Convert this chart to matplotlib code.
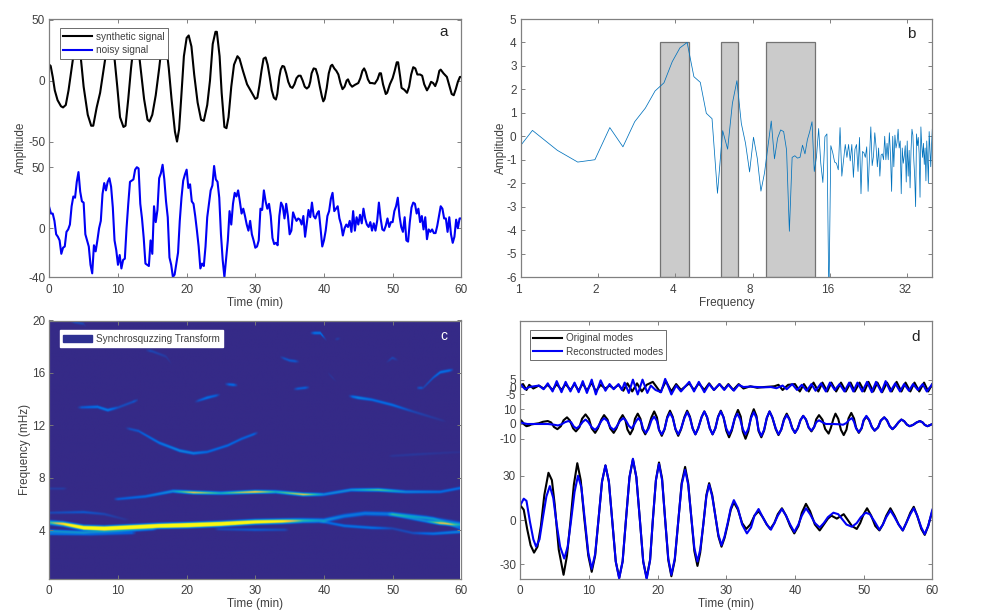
import numpy as np
import matplotlib
matplotlib.use("Agg")
import matplotlib.pyplot as plt
from matplotlib.colors import LinearSegmentedColormap
from matplotlib.lines import Line2D
from matplotlib.patches import Patch, Rectangle
from matplotlib.transforms import ScaledTranslation

plt.rcParams['font.family'] = ['Liberation Sans', 'DejaVu Sans']
plt.rcParams['axes.unicode_minus'] = False

# ---------- panel a ----------
a_clean = np.array([0,13,.2,12,.5,3,.8,-8,1.2,-16,1.7,-21,2,-22,2.4,-20,2.8,-8,3.2,8,3.5,20,4.1,32,4.6,18,5,-5,5.6,-28,6.1,-37,6.4,-37,6.9,-22,7.4,-10,7.8,5,8.2,20,8.6,35,9.2,30,9.5,18,9.9,-5,10.3,-30,10.8,-38,11.1,-37,11.5,-15,11.9,10,12.3,30,12.6,38,13,25,13.4,5,13.8,-15,14.3,-32,14.6,-33.5,15,-28,15.5,-12,16,10,16.3,25,16.7,38,17,30,17.4,10,17.8,-15,18.3,-42,18.6,-50,18.9,-40,19.2,-15,19.6,20,20,35,20.3,37,20.7,28,21.1,5,21.6,-18,22.1,-32,22.5,-33,23,-20,23.4,0,23.8,30,24.2,40,24.4,40,24.8,20,25.1,-10,25.5,-38,25.8,-39,26.1,-30,26.5,-5,26.9,13,27.4,20,27.7,18,28.2,8,28.8,-3,29.2,-7,29.6,-11,
 30,-15,30.3,-14,30.6,-4,30.9,8,31.2,18,31.5,19,31.8,13,32.1,3,32.4,-8,32.7,-14,33,-15.5,33.2,-11,33.5,3,33.7,9,33.95,12,34.2,11.5,34.5,6,34.8,-1,35.1,-5,35.4,-6,35.7,-3,36,2,36.3,4,36.6,4,36.9,0,37.2,-5,37.5,-6.5,37.8,-5,38,-1,38.2,6,38.5,10,38.8,9.5,39.1,4,39.4,-5,39.7,-13,39.9,-17,40.1,-15,40.4,-6,40.7,6,41,12,41.2,13,41.5,10,41.8,8,42.1,5,42.4,-2,42.7,-7,43,-5,43.3,0,43.5,1,43.8,-3,44.1,-5,44.5,-3.5,45,-2,45.3,2,45.6,8,45.85,10,46.1,7,46.4,1,46.7,-2,47,-2,47.4,-2.5,47.8,1,48.1,6,48.3,6,48.6,-3,49,-11,49.2,-10,49.6,-3,50,2,50.3,8,50.6,15,50.8,15,51.1,3,51.3,-6,51.7,-7.5,52.1,-10,52.4,-5,52.7,5,53,11,53.3,10,53.6,5,54,5,54.3,4,54.6,-3,55,-8,55.3,-5,55.6,-1,55.9,-2,56.2,-4.5,56.5,0,56.8,8,57,9,57.4,6,57.9,3,58.2,-3,58.6,-11,58.9,-12,59.2,-7,59.5,-1,59.8,3,60,3]).reshape(-1, 2)
a_noisy_v = [17,12,12,6,-5,-7,-10,-21,-16,-15,-3,-1,3,18,26,25,38,46,30,22,
 21,-5,-10,-15,-30,-37,-14,-19,-10,0,6,28,37,31,38,41,34,17,-10,-18,
 -30,-22,-33,-26,-25,0,20,38,39,40,48,50,49,20,8,-8,-29,-30,-31,-10,
 -21,18,5,15,41,45,52,40,22,9,-24,-30,-40,-38,-29,-20,6,25,39,44,
 48,33,36,22,20,10,-2,-15,-33,-29,-31,-15,9,20,31,35,51,40,38,25,
 -5,-26,-40,-25,-10,14,3,20,29,26,31,22,12,16,10,3,-2,6,-5,-10,
 -16,-15,-10,16,15,31,22,16,20,10,-8,-13,-12,-14,10,21,18,8,20,10,
 -5,-2,13,9,6,8,7,3,10,-7,4,15,9,21,10,8,12,14,0,-15,
 -10,-2,10,14,24,29,14,16,18,8,3,-6,0,3,1,6,-3,14,-2,9,
 3,11,4,16,8,3,1,5,-2,4,-2,6,21,8,-1,-2,2,8,1,5,
 5,14,18,25,10,1,-3,9,-10,-11,5,17,21,20,12,16,5,10,-1,9,
 -9,-1,-3,-1,-4,-4,2,10,18,16,8,8,-3,9,-5,-12,-7,7,0,8,8]
a_noisy_t = np.arange(len(a_noisy_v)) * 0.25
a_offset = 121
a_ticks = [-40, 0, 50, 71, 121, 171]
a_ticklabels = ['-40', '0', '50', '-50', '0', '50']

# ---------- panel b ----------
b_amp = [-1.5,0.25,-0.6,-1.1,-1.0,0.37,-0.45,0.62,1.2,1.93,2.28,3.18,3.77,4.0,2.54,2.3,0.98,0.75,-2.43,0.24,
 -0.55,1.4,2.37,0.55,-0.3,-1.52,-0.04,-0.94,-2.34,-1.57,-0.44,0.65,-0.96,-0.08,0.27,0.2,-0.58,-4.05,-0.9,-0.83,
 -0.93,-0.9,-0.38,-0.75,-0.15,0.2,0.62,-1.5,-0.87,0.33,-1.15,-1.97,-0.02,0.1,-7.0,-0.4,-0.7,-1.1,-1.15,-1.43,
 0.37,-1.7,-1.0,-0.35,-0.9,-0.35,-1.05,-0.35,-1.75,-0.55,-0.35,-1.5,-0.05,-2.45,-0.65,-0.7,-0.9,-0.45,-2.35,-0.9,
 0.4,-1.25,-0.85,0.15,-0.45,-1.3,-0.5,-1.7,-0.8,-0.75,-1.0,0.0,-1.0,-0.3,-1.0,0.15,-0.8,-2.35,0.0,-1.3,
 0.05,-0.5,-0.25,0.3,-0.5,-0.2,-2.45,-0.5,-1.15,-0.85,-0.4,-1.95,-0.2,-1.7,-0.6,-2.2,-0.6,0.3,0.05,-1.0,
 -1.75,-3.0,0.1,-0.4,-0.05,-0.75,-2.6,0.4,-0.4,-0.9,-0.3,-1.2,-0.5,-1.9,-0.2,-1.0,-2.0,0.2,-0.6,-1.3,-0.4,0.3]
b_freq = np.arange(3, 3 + len(b_amp)) / 3.6
b_bands = [(3.5, 4.5), (6, 7), (9, 14)]
b_ticks = [1, 2, 4, 8, 16, 32]

# ---------- panel c ----------
c_ridges = [
 ([0,2,5,8,12,16,20,25,30,34,37,40,43,46,50,55,60],[4.6,4.5,4.2,4.15,4.25,4.35,4.4,4.5,4.65,4.7,4.75,4.75,5.1,5.3,5.25,4.95,4.5],[.6,1.2,2,2.2,2.2,2.3,2.8,2.4,1.7,1.3,.6,.35,.25,.25,.25,.25,.25]),
 ([0,5,10,15],[3.95,3.85,3.95,4.1],[.4,.35,.3,.2]),
 ([0,6,12],[3.75,3.7,3.8],[.22,.15,.15]),
 ([24,30,35],[4.1,4.05,4.05],[.08,.14,.08]),
 ([40,43,47,50,53,56,60],[4.65,4.35,4.2,4.15,3.8,3.75,3.9],[.18,.22,.22,.08,.1,.22,.3]),
 ([50,55,57,60],[5.2,4.7,4.55,4.4],[.22,.32,.95,.32]),
 ([50,56,60],[5.25,4.9,4.15],[.18,.18,.22]),
 ([0,5,8,11],[5.35,5.4,5.25,4.85],[.08,.13,.08,.03]),
 ([10,14,18,21,25,30,33,37,40,44,48,52,57,60],[6.4,6.6,7.0,6.9,6.85,6.95,6.95,6.75,6.75,7.1,7.1,6.95,6.95,7.25],[.14,.2,.35,1.0,.5,1.1,.5,1.0,.3,.35,.7,.3,.2,.2]),
 ([0,2],[7.2,7.2],[.05,.05]),
 ([11,13,16,19,21,23,26,28,30.5],[11.85,11.6,10.7,10.1,9.9,10,10.5,11.0,11.5],[.08,.13,.22,.3,.27,.18,.18,.16,.16]),
 ([4,7,8.5,10,12,13],[13.4,13.45,13.2,13.4,13.8,14],[.1,.22,.25,.1,.1,.18]),
 ([21,23,25],[13.8,14.15,14.4],[.04,.22,.1]),
 ([25.5,27.5],[15.2,15.1],[.14,.22]),
 ([35.5,38],[14.8,14.95],[.13,.16]),
 ([43.5,45,47,50,53,58],[14.3,14.15,14,13.6,13.1,12.3],[.08,.3,.2,.2,.08,.02]),
 ([53.5,54.5,56,57,59],[14.9,14.9,15.7,16.1,16.3],[.25,.07,.14,.22,.18]),
 ([49,50,51],[16.8,17.2,17],[.04,.08,.04]),
 ([33.5,35,36.5],[17.3,17,16.9],[.08,.13,.13]),
 ([38,39.5,40.5],[19.1,19.1,18.5],[.22,.22,.08]),
 ([41.5,42.5],[18.6,18.7],[.08,.08]),
 ([3,5,5.5],[20,19.8,19.5],[.1,.08,.04]),
 ([14,15,17,18],[17.8,17.7,17.3,16.6],[.1,.08,.05,.02]),
 ([40.5,42],[16.1,15.3],[.05,.02]),
 ([50,53,60],[9.7,9.8,10],[.03,.04,.02]),
]
parula = ['#352A87','#0363E1','#1485D4','#06A7C6','#38B99E','#92BF73','#D9BA56','#FCCE2E','#F9FB0E']

# ---------- panel d ----------
d1_orig_t = [0,.5,1,1.5,2,2.5,3,3.5,4.1,4.6,5,5.6,6.3,6.8,7.3,7.8,8.3,8.8,9.3,9.9,10.4,10.9,11.4,11.9,12.4,12.9,13.4,13.9,14.4,14.9,15.4,15.9,16.4,16.9,17.4,17.9,18.4,18.9,19.3,19.75,20.2,20.65,21.1,21.55,22,22.5,23,23.5,24,24.45,24.9,25.35,25.8,26.2,26.65,27.1,27.5,27.95,28.4,28.85,29.3,29.75,30.2,30.65,31.1,31.7,32.3,32.9,33.5,34.1,34.7,35.3,35.9,36.4,37,37.5,38.1,38.7,39.3,39.9,40.5,41,41.6,42.2,42.9,43.6,44.2,44.8,45.3,45.7,46.1,46.6,47.1,47.7,48.3,49,49.5,50,50.5,51.1,51.7,52.3,52.8,53.3,53.9,54.5,55.1,55.7,56.2,56.8,57.3,57.8,58.4,58.9,59.4,60]
d1_orig_v = [10,7,-6,-17,-22,-18,-4,17,32,27,11,-20,-37,-24,-1,24,38.5,27,2,-24,-35,-24,1,26,37,26,-1,-28,-39,-28,1,29,41,29,1,-28,-39,-27,0,27,39,28,0,-27,-38,-27,-1,25,36,25,2,-21,-31,-22,-3,17,25,17,3,-11,-18,-12,-3,7,12,7,-2,-6,-3,3,6,2,-3,-6,-2,4,8,3,-4,-9,-4,5,11,6,-3,-7,-3,1,3,2,1,2.5,4,0,-4,-6,-2,4,8,3,-4,-7,-3,3,8,3,-3,-7,-2,5,9,3,-6,-10,-4,6]
d1_rec_t = [0,.5,.9,1.4,1.9,2.3,2.8,3.3,3.8,4.3,4.8,5.3,5.8,6.4,6.9,7.4,7.9,8.4,8.9,9.4,9.9,10.4,10.9,11.4,11.9,12.4,12.9,13.4,13.9,14.4,14.9,15.4,15.9,16.4,16.9,17.4,17.9,18.4,18.9,19.3,19.75,20.2,20.65,21.1,21.55,22,22.5,23,23.5,24,24.45,24.9,25.35,25.8,26.2,26.65,27.1,27.5,27.95,28.4,28.85,29.3,29.75,30.2,30.65,31.1,31.7,32.3,33,33.6,34.1,34.7,35.3,35.9,36.5,37,37.5,38.1,38.7,39.3,39.9,40.5,41,41.6,42.2,42.9,43.6,44.2,44.8,45.6,46.3,46.9,47.5,48.3,49,49.6,50.3,50.9,51.6,52.3,52.8,53.3,53.9,54.5,55.1,55.7,56.2,56.8,57.3,57.8,58.4,58.9,59.4,60]
d1_rec_v = [10,14.5,13,-1,-13,-18,-13,2,16,23,15,-3,-18,-26,-18,0,19,30,22,0,-22,-33,-23,1,26,37,26,-1,-28,-39.5,-28,1,29,41.5,29,1,-28,-40,-27,0,27,38,27,0,-26,-37,-26,-1,24,34,24,2,-19,-28,-20,-3,16,24,16,3,-10,-17,-11,-2,8,13.5,8,-3,-9,-5,3,7.5,2,-3,-6.5,-2,3,7.5,3,-3,-8,-3,3,8,4,-2,-5,-2,2,5,4,0.5,-3,-4.5,-2,2,5,4,-1,-6.5,-3,2,6.5,2,-3,-7,-2,4,8,3,-5,-9.5,-4,7]

d2_orig = np.array([0,3,.3,1.5,.6,-.5,.9,-1.5,1.3,-1,1.6,-.3,2,0,2.7,.5,3.3,1.5,4,2,4.5,1,4.9,-2,5.4,-3.5,5.9,-1.5,6.3,2.5,6.8,4.5,7.2,2.5,7.7,-3,8.1,-5,8.6,-2.2,9,3.6,9.5,6.5,10,3.4,10.4,-3,10.9,-6,11.3,-3,11.8,3,12.2,6,12.7,3,13.1,-3,13.6,-6,14,-3,14.5,3,14.9,6,15.3,2.8,15.6,-3.7,16,-7,16.4,-3.5,16.7,3.5,17.1,7,17.5,3.5,17.8,-3.5,18.2,-7,18.6,-3,19.1,4.5,19.5,8.5,19.9,4.4,20.2,-3.9,20.6,-8,21,-3.7,21.4,4.8,21.8,9,22.2,4.8,22.6,-3.7,23,-8,23.4,-3.7,23.9,4.7,24.3,9,24.7,5,25.1,-3,25.5,-7,25.9,-3,26.4,4.6,26.8,8.5,27.2,4.6,27.6,-3,28,-7,28.4,-3,28.8,5,29.2,9,29.6,4.5,30,-4.5,30.4,-9,30.8,-4.5,31.3,5,31.7,9.5,32.1,5,32.4,-5,32.8,-10,33.2,-5,33.6,5,34,10,34.4,5.3,34.7,-4.8,35.1,-9,35.5,-4.5,35.9,4,36.3,8.5,36.7,4.5,37.2,-3.5,37.6,-7.5,38,-3.8,38.4,3.3,38.8,7,39.2,3.3,39.6,-2.7,40,-6,40.4,-3,40.8,2.6,41.2,5.5,41.6,3,42,-2.5,42.4,-5,42.8,-2,43.1,3.2,43.5,6,44,2.9,44.4,-3.4,44.9,-6.5,45.2,-3,45.6,3.5,45.9,7,46.3,3.5,46.7,-4,47.1,-7.5,47.5,-3.8,47.8,3.8,48.2,7.5,48.6,3.7,48.9,-2.5,49.3,-6,49.7,-3,50,2.3,50.4,5,50.8,2.6,51.2,-2.1,51.6,-4.5,52.1,-2.3,52.5,2.3,53,4.5,53.4,2.5,53.8,-1.5,54.2,-3.5,54.6,-1.7,55.1,1.3,55.5,3,55.9,1.9,56.3,-.4,56.7,-1.5,57.2,-.6,57.7,1,58.2,2,58.6,1,58.9,-.6,59.3,-1.5,59.6,-.9,60,0]).reshape(-1, 2)
d2_rec = np.array([0,1,.5,.5,1,0,2,0,3,0,4,0,4.8,-.4,5.5,-1,6,-.2,6.5,1.2,7,2,7.4,1.2,7.8,-1.8,8.2,-3,8.6,-1.5,9.1,1.5,9.5,3,9.9,1.3,10.4,-2.2,10.9,-4,11.3,-2,11.8,2,12.2,4,12.7,2,13.1,-2,13.6,-4,14,-2,14.5,2,15,4,15.4,2.2,15.8,-1.2,16.2,-3,16.5,-1.2,16.9,2.2,17.2,4,17.6,1.5,17.9,-3.5,18.3,-6,18.7,-3,19.1,2.5,19.5,5,19.9,2,20.2,-4,20.6,-7,21,-3.5,21.4,4,21.8,7.5,22.2,4,22.6,-3.3,23,-7,23.4,-3.3,23.9,4,24.3,8,24.7,4.2,25.1,-3,25.5,-7,25.9,-3,26.4,4.6,26.8,8.5,27.2,4.6,27.6,-3,28,-7,28.4,-3,28.8,4.6,29.2,8.5,29.6,4.5,30,-3,30.4,-7,30.8,-3.5,31.2,3.5,31.6,7,32,3.5,32.4,-3.5,32.8,-7,33.2,-3.3,33.6,4,34,8,34.4,4,34.7,-4,35.1,-8,35.5,-4,35.9,4.3,36.3,8.5,36.7,4.5,37.2,-3,37.6,-7,38,-3.8,38.4,2.7,38.8,6,39.2,3,39.6,-3,40,-6,40.4,-3,40.8,2.6,41.2,5.5,41.6,3,42,-2.3,42.4,-4.5,42.8,-2,43.1,1.2,43.5,2.5,44,1.2,44.5,0,45.5,0,46.5,-.2,47,-.5,47.5,.7,47.9,2.8,48.3,4,48.6,1.5,48.9,-3,49.3,-5.5,49.7,-2.8,50,2.7,50.4,5.5,50.8,2.8,51.2,-2,51.6,-4.5,52.1,-2.3,52.5,2.3,53,4.5,53.4,2.5,53.8,-1.5,54.2,-3.5,54.6,-1.7,55.1,1.3,55.5,3,55.9,1.9,56.3,-.4,56.7,-1.5,57.2,-.6,57.7,1,58.2,2,58.6,1,58.9,-.6,59.3,-1.5,59.6,-.9,60,0]).reshape(-1, 2)

d3_orig_t = [0,.4,.9,1.3,1.9,2.7,3.4,4,4.7,5.3,6,6.6,7.3,7.9,8.5,9.1,9.7,10.4,11,11.7,12.4,13,13.6,14.3,15,15.6,16.3,17,17.7,18.4,19.3,20.4,21.2,22,22.7,23.4,24.6,25.3,26,26.8,27.5,28.2,29,29.7,30.3,31,31.8,32.5,33.5,34.5,35.5,37,37.6,38.2,39,40,40.7,41.3,42,42.7,43.4,44,44.7,45.3,46,46.7,47.4,48.1,48.7,49.4,50.1,50.7,51.4,52,52.7,53.4,54.1,54.8,55.5,56.1,56.8,57.4,58.1,58.8,59.4,60]
d3_orig_v = [1,2,-2,1.5,-1,1,-1,1.5,-2,2,-2,2,-2,2,-2.5,2.5,-2.5,3,-3,1.5,-1,1,-1,1.5,-2.5,2.5,-3,2.5,-3,1.5,3.5,-3.5,4,-3,2,-2,2.5,-2,2.5,-2,2.5,-2,2,-1.5,2,-2,2,-1,.5,-.5,0,.5,1.5,-2,1.5,2,-3,2,-3,3,-3,3,-3,3,-3,3,-3,3,-3,3,-3,3.5,-3,3,-3.5,3,-3,3.5,-3,3,-3,3,-3,3,-3,2]
d3_rec_t = [0,.7,1.3,2,2.7,3.4,4,4.7,5.3,6,6.6,7.3,7.9,8.5,9.1,9.7,10.4,11,11.7,12.4,13,13.6,14.3,14.8,15.2,15.8,16.4,17.1,17.8,18.5,19,19.7,20.5,21.1,22,22.7,23.4,24.6,25.3,26,26.8,27.5,28.2,29,29.7,30.3,31.1,31.8,32.5,33.5,34.5,35.5,36.5,37.3,38.2,38.8,39.6,40.3,41,41.7,42.4,43,43.8,44.5,45.1,45.8,46.5,47.2,47.9,48.5,49.1,49.8,50.5,51.2,51.8,52.6,53.2,53.9,54.6,55.3,55.9,56.6,57.2,57.9,58.6,59.2,60]
d3_rec_v = [2,-1.5,0,.5,1,-1.5,2.5,-3,4,-3.5,3.5,-3,3,-3.5,4,-4,5,-5,4.5,-2.5,2,-1.5,2,-2,3,-4,5,-5,5,-4,1,-2,-3.5,5.5,-5,1,-3,3.5,-3,3.5,-3.5,2,-2,2,-2,1.5,-2.5,1.5,0,.3,0,-.2,0,-.8,1,-1.5,2,-2,1.5,-2.5,2,-2.5,2.5,-3,3,-2,2,-3,3,-3,3,-3,3.5,-3.5,3.5,-3.5,4,-3,2.5,-3,2,-2.5,2,-2,2,-3,2]
d_mid_offset = 65
d_top_offset = 90
d_ticks = [-30, 0, 30, 55, 65, 75, 85, 90, 95]
d_ticklabels = ['-30', '0', '30', '-10', '0', '10', '-5', '0', '5']
time_ticks = [0, 10, 20, 30, 40, 50, 60]

# ---------- layout ----------
W, H = 981, 615
fig = plt.figure(figsize=(W / 100, H / 100), dpi=100)
TXT = '#404040'
SP = '#808080'
LEG = dict(loc='upper left', borderaxespad=0, fontsize=7.2, fancybox=False, framealpha=1,
           handlelength=2.9, handletextpad=0.35, labelspacing=0.38, borderpad=0.35, labelcolor=TXT)


def make_axes(l, r, t, b):
    ax = fig.add_axes([l / W, 1 - b / H, (r - l) / W, (b - t) / H])
    for s in ax.spines.values():
        s.set_color(SP)
        s.set_linewidth(0.9)
    ax.tick_params(direction='in', top=True, right=True, length=3, width=0.7, color=SP,
                   labelcolor=TXT, labelsize=8.5, pad=3)
    ax.tick_params(axis='x', pad=5)
    return ax


# panel a
axa = make_axes(49.3, 461.3, 19, 277)
axa.plot(a_clean[:, 0], a_clean[:, 1] + a_offset, color='k', lw=1.5, solid_joinstyle='round')
axa.plot(a_noisy_t, a_noisy_v, color='#0000F5', lw=1.5, solid_joinstyle='round')
axa.set_xlim(0, 60)
axa.set_ylim(-40, 171.5)
axa.set_yticks(a_ticks, a_ticklabels)
axa.set_xticks(time_ticks)
axa.set_xlabel('Time (min)', fontsize=8.5, color=TXT, labelpad=0.5)
axa.set_ylabel('Amplitude', fontsize=8.5, color=TXT, labelpad=0.5)
axa.text(0.957, 0.95, 'a', transform=axa.transAxes, fontsize=11, ha='center', va='center', color='#222222')
leg = axa.legend(handles=[Line2D([], [], color='k', lw=1.5, label='synthetic signal'),
                          Line2D([], [], color='#0000F5', lw=1.5, label='noisy signal')],
                 bbox_to_anchor=(0.025, 0.965), edgecolor='#555555', **LEG)
leg.get_frame().set_linewidth(0.6)

# panel b
axb = make_axes(520.7, 932.3, 19, 277)
axb.set_xscale('log', base=2)
for lo, hi in b_bands:
    axb.add_patch(Rectangle((lo, -6), hi - lo, 10, facecolor='#cbcbcb', edgecolor='#737373', lw=0.9, zorder=1))
axb.plot(b_freq, b_amp, color='#0072BD', lw=0.55, zorder=2)
axb.set_xlim(1, 40)
axb.set_ylim(-6, 5)
axb.set_xticks(b_ticks, [str(v) for v in b_ticks])
axb.minorticks_off()
axb.tick_params(axis='x', which='minor', length=0)
axb.set_yticks(range(-6, 6))
axb.set_xlabel('Frequency', fontsize=8.5, color=TXT, labelpad=0.5)
axb.set_ylabel('Amplitude', fontsize=8.5, color=TXT, labelpad=-0.5)
axb.text(0.95, 0.943, 'b', transform=axb.transAxes, fontsize=11, ha='center', va='center', color='#222222')
for lab in axb.get_xticklabels():
    lab.set_transform(lab.get_transform() + ScaledTranslation(-2 / 72, 0, fig.dpi_scale_trans))

# panel c
axc = make_axes(49.3, 461.3, 320.5, 578.5)
tg = np.linspace(0, 59.8, 420)
fg = np.linspace(0.3, 20, 560)
Z = np.zeros((fg.size, tg.size))
for rt, rf, ra in c_ridges:
    taper = np.clip(np.minimum(tg - rt[0], rt[-1] - tg) / 0.7 + (1 if rt[0] <= 0 or rt[-1] >= 60 else 0), 0, 1)
    fr = np.interp(tg, rt, rf)
    am = np.interp(tg, rt, ra) * taper
    sigma = 0.1 if max(ra) > 1.5 else 0.075
    Z += am * np.exp(-((fg[:, None] - fr) ** 2) / (2 * sigma ** 2))
cmap = LinearSegmentedColormap.from_list('parula', parula)
axc.imshow(Z, origin='lower', extent=[0, 59.8, 0.3, 20], aspect='auto', cmap=cmap, vmin=0, vmax=1.25,
           interpolation='bilinear')
axc.set_xlim(0, 60)
axc.set_ylim(0.3, 20)
axc.set_xticks(time_ticks)
axc.set_yticks([4, 8, 12, 16, 20])
axc.set_xlabel('Time (min)', fontsize=8.5, color=TXT, labelpad=0.5)
axc.set_ylabel('Frequency (mHz)', fontsize=8.5, color=TXT, labelpad=0.5)
axc.tick_params(color='#777777')
axc.text(0.957, 0.94, 'c', transform=axc.transAxes, fontsize=10, ha='center', va='center', color='white')
leg = axc.legend(handles=[Patch(facecolor='#2E3192', edgecolor='#2E3192', label='Synchrosquzzing Transform')],
                 bbox_to_anchor=(0.025, 0.963), edgecolor='white', **LEG)

# panel d
axd = make_axes(520.3, 932.3, 320.5, 578.5)
BK, BL = 'k', '#0000F5'
axd.plot(d1_orig_t, d1_orig_v, color=BK, lw=1.5, solid_joinstyle='round')
axd.plot(d2_orig[:, 0], d2_orig[:, 1] + d_mid_offset, color=BK, lw=1.5, solid_joinstyle='round')
axd.plot(d3_orig_t, np.array(d3_orig_v) + d_top_offset, color=BK, lw=1.5, solid_joinstyle='round')
axd.plot(d1_rec_t, d1_rec_v, color=BL, lw=1.5, solid_joinstyle='round')
axd.plot(d2_rec[:, 0], d2_rec[:, 1] + d_mid_offset, color=BL, lw=1.5, solid_joinstyle='round')
axd.plot(d3_rec_t, np.array(d3_rec_v) + d_top_offset, color=BL, lw=1.5, solid_joinstyle='round')
axd.set_xlim(0, 60)
axd.set_ylim(-39.5, 135)
axd.set_xticks(time_ticks)
axd.set_yticks(d_ticks, d_ticklabels)
axd.set_xlabel('Time (min)', fontsize=8.5, color=TXT, labelpad=0.5)
axd.text(0.96, 0.935, 'd', transform=axd.transAxes, fontsize=11, ha='center', va='center', color='#222222')
leg = axd.legend(handles=[Line2D([], [], color='k', lw=1.5, label='Original modes'),
                          Line2D([], [], color=BL, lw=1.5, label='Reconstructed modes')],
                 bbox_to_anchor=(0.023, 0.965), edgecolor='#555555', **LEG)
leg.get_frame().set_linewidth(0.6)

fig.savefig('out.png', dpi=100)
